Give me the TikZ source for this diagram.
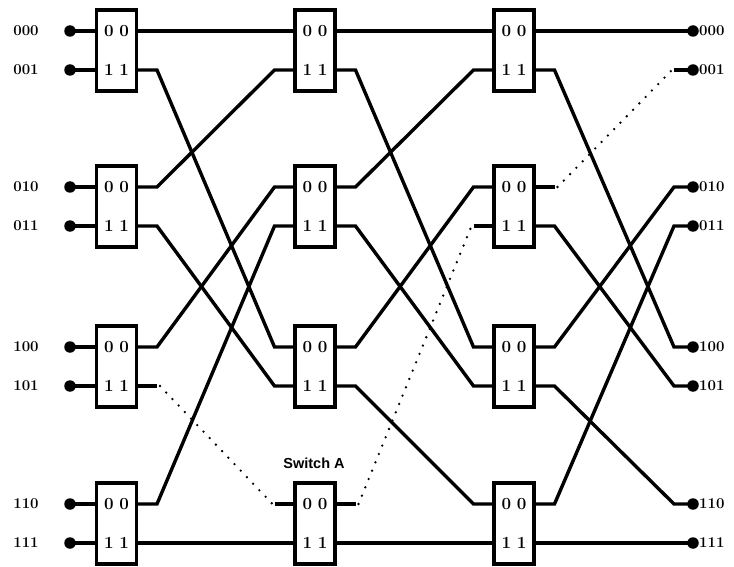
\documentclass[tikz,border=0pt]{standalone}
\usepackage{fontspec}
\newfontfamily\labelsans{Liberation Sans}
\begin{document}
\begin{tikzpicture}[x=1pt,y=-1pt,
  wire/.style={line width=3.4pt,line join=miter},
  dots/.style={line width=2.6pt,line cap=round,dash pattern=on 0pt off 9pt},
  link/.style={to path={-- ++(19,0) -- ([xshift=-19pt]\tikztotarget) -- (\tikztotarget)}},
  switchbox/.style={draw,fill=white,line width=3.4pt,rectangle,
    minimum width=40pt,minimum height=81pt,inner sep=0pt},
  digits/.style={font=\fontsize{17}{17}\selectfont\bfseries,inner sep=0pt},
  portlabel/.style={font=\fontsize{15}{15}\selectfont\bfseries,inner sep=0pt},
  terminal/.style={circle,fill=black,minimum size=11.5pt,inner sep=0pt}]
\useasboundingbox (0,0) rectangle (734,567);

% port coordinates of the three switch columns
\foreach \c/\x in {1/116.5,2/315,3/514}{
  \foreach \p/\y in {0/31,1/70,2/187,3/226,4/347,5/386,6/504,7/543}{
    \coordinate (p\c i\p) at (\x-21.5,\y);
    \coordinate (p\c o\p) at (\x+21.5,\y);
  }
}

% inputs and outputs
\foreach \p/\y/\t in {0/31/000,1/70/001,2/187/010,3/226/011,4/347/100,5/386/101,6/504/110,7/543/111}{
  \coordinate (in\p) at (70,\y);
  \coordinate (out\p) at (693,\y);
  \node[portlabel] (lin\p) at (26,\y) {\t};
  \node[portlabel,anchor=west] (lout\p) at (699,\y) {\t};
  \draw[wire] (in\p) -- (p1i\p);
}

% stage 1 -> stage 2
\foreach \p/\q in {0/0,1/4,2/1,3/5,4/2,6/3,7/7}
  \draw[wire] (p1o\p) to[link] (p2i\q);
\draw[wire] (p1o5) -- ++(19,0);
\draw[wire] (p2i6) -- ++(-19,0);
\draw[dots] ([xshift=22pt]p1o5) -- ([xshift=-21pt]p2i6);

% stage 2 -> stage 3
\foreach \p/\q in {0/0,1/4,2/1,3/5,4/2,5/6,7/7}
  \draw[wire] (p2o\p) to[link] (p3i\q);
\draw[wire] (p2o6) -- ++(19,0);
\draw[wire] (p3i3) -- ++(-19,0);
\draw[dots] ([xshift=22pt]p2o6) -- ([xshift=-21pt]p3i3);

% stage 3 -> outputs
\foreach \p/\q in {0/0,1/4,3/5,4/2,5/6,6/3,7/7}
  \draw[wire] (p3o\p) to[link] (out\q);
\draw[wire] (p3o2) -- ++(19,0);
\draw[wire] (out1) -- ++(-19,0);
\draw[dots] ([xshift=22pt]p3o2) -- ([xshift=-21pt]out1);

% switches
\foreach \c/\x in {1/116.5,2/315,3/514}{
  \foreach \r/\ya/\yb in {0/31/70,1/187/226,2/347/386,3/504/543}{
    \node[switchbox] (s\c\r) at (\x,{(\ya+\yb)/2}) {};
    \node[digits] (s\c\r-a) at (\x,\ya) {0\,\,0};
    \node[digits] (s\c\r-b) at (\x,\yb) {1\,\,1};
  }
}

% terminals
\foreach \p in {0,...,7}{
  \node[terminal] (tin\p) at (in\p) {};
  \node[terminal] (tout\p) at (out\p) {};
}

\node[font=\labelsans\bfseries\fontsize{14.5}{14.5}\selectfont,inner sep=0pt] (swA) at (314,463) {Switch A};
\end{tikzpicture}
\end{document}
